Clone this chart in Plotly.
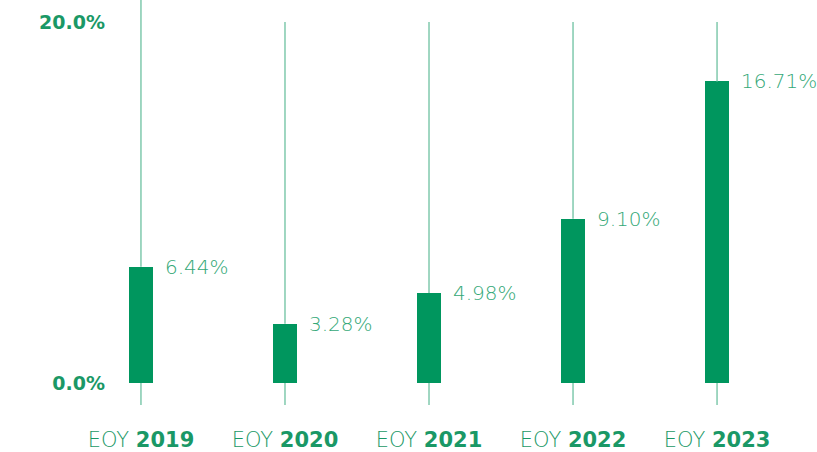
import plotly.graph_objects as go

categories = ["2019", "2020", "2021", "2022", "2023"]
values = [6.44, 3.28, 4.98, 9.10, 16.71]
value_labels = ["6.44%", "3.28%", "4.98%", "9.10%", "16.71%"]
wick_high = [21.5, 20.0, 20.0, 20.0, 20.0]
wick_low = [-1.22, -1.22, -1.22, -1.22, -1.22]
y_tickvals = [0, 20]
y_ticktext = ["0.0%", "20.0%"]

BAR = "#00965E"
WICK = "#80C9AD"
TXT = "#1A9866"
LBL = "#34A877"
FONT = "DejaVu Sans"

xs = list(range(len(categories)))
wx, wy = [], []
for i in xs:
    # lower wick (below bar) and upper wick (above bar)
    wx += [i, i, None, i, i, None]
    wy += [wick_low[i], 0, None, values[i], wick_high[i], None]

fig = go.Figure()
fig.add_trace(go.Scatter(x=wx, y=wy, mode="lines", line=dict(color=WICK, width=1.5),
                         hoverinfo="skip", showlegend=False, cliponaxis=True))
fig.add_trace(go.Bar(x=xs, y=values, width=0.167, marker=dict(color=BAR, line=dict(width=0)),
                     showlegend=False))

for i, v in enumerate(values):
    fig.add_annotation(x=i, y=v, text=value_labels[i], showarrow=False, xanchor="left",
                       yanchor="middle", xshift=22,
                       font=dict(family=FONT, size=20, color=LBL, weight=200))

fig.update_layout(
    width=817, height=452,
    margin=dict(l=110, r=0, t=0, b=27),
    plot_bgcolor="white", paper_bgcolor="white",
    bargap=0,
)
fig.update_xaxes(
    tickmode="array", tickvals=xs,
    ticktext=[f"EOY <b>{c}</b>" for c in categories],
    range=[-0.215, 4.694], showgrid=False, zeroline=False, showline=False,
    tickfont=dict(family=FONT, size=21, color=TXT, weight=200),
)
fig.update_yaxes(
    tickmode="array", tickvals=y_tickvals, ticktext=y_ticktext,
    range=[-2.33, 21.22], showgrid=False, zeroline=False, showline=False,
    tickfont=dict(family=FONT, size=19, color=TXT, weight=700),
    ticklabelstandoff=4,
)

fig.write_html("out.html")
